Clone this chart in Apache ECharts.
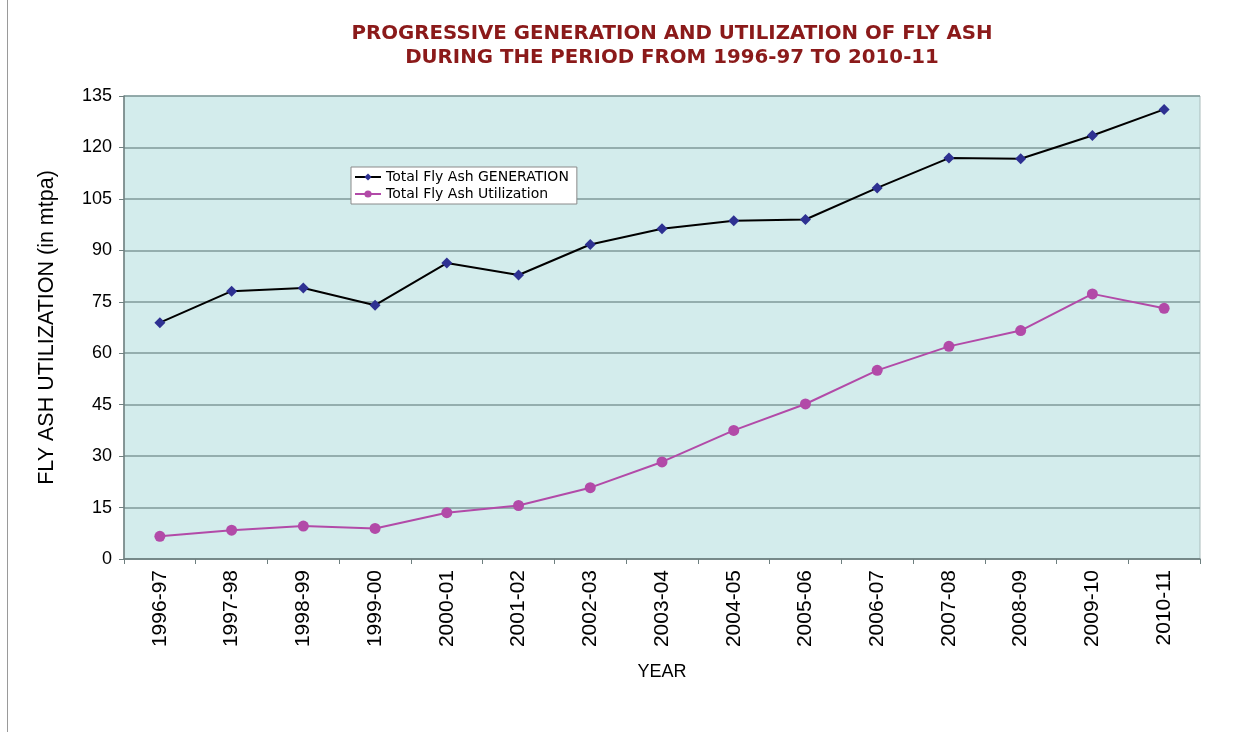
<!DOCTYPE html>
<html>
<head>
<meta charset="utf-8">
<script src="https://cdn.jsdelivr.net/npm/echarts@6/dist/echarts.min.js"></script>
<style>
  html, body { margin: 0; padding: 0; background: #fff; }
  #chart { width: 1238px; height: 732px; }
</style>
</head>
<body>
<div id="chart"></div>
<script>
const years = ['1996-97', '1997-98', '1998-99', '1999-00', '2000-01', '2001-02', '2002-03', '2003-04',
  '2004-05', '2005-06', '2006-07', '2007-08', '2008-09', '2009-10', '2010-11']
const generation = [68.9, 78.1, 79.0, 74.0, 86.3, 82.8, 91.7, 96.3, 98.6, 99.0, 108.2, 116.9, 116.7, 123.5, 131.1]
const utilization = [6.6, 8.4, 9.6, 8.9, 13.5, 15.6, 20.8, 28.3, 37.5, 45.2, 55.0, 62.0, 66.6, 77.3, 73.1]

const chart = echarts.init(document.getElementById('chart'))

chart.setOption({
  backgroundColor: '#fff',
  animation: false,
  title: {
    text: 'PROGRESSIVE GENERATION AND UTILIZATION OF FLY ASH\nDURING THE PERIOD FROM 1996-97 TO 2010-11',
    left: 667,
    textAlign: 'center',
    top: 17,
    textStyle: { color: '#8b1a1a', fontFamily: 'DejaVu Sans', fontWeight: 'bold', fontSize: 19.8, lineHeight: 24 }
  },
  graphic: [
    { type: 'line', shape: { x1: 7.5, y1: 0, x2: 7.5, y2: 732 }, style: { stroke: '#9a9a9a', lineWidth: 1 } }
  ],
  legend: {
    orient: 'vertical',
    left: 351,
    top: 167,
    padding: [3, 8, 3, 3],
    itemGap: 3,
    itemWidth: 26,
    itemHeight: 9,
    backgroundColor: '#fff',
    borderColor: '#8a8a8a',
    borderWidth: 1,
    borderRadius: 0,
    textStyle: { fontFamily: 'DejaVu Sans', fontSize: 14, color: '#000' }
  },
  grid: {
    left: 124, right: 38, top: 96, bottom: 173,
    show: true,
    backgroundColor: '#d3ecec',
    borderColor: '#a9bcbc',
    borderWidth: 1
  },
  xAxis: {
    type: 'category',
    data: years,
    boundaryGap: true,
    name: 'YEAR',
    nameLocation: 'middle',
    nameGap: 104,
    nameTextStyle: { fontFamily: 'Liberation Sans', fontSize: 18, color: '#000' },
    axisLine: { lineStyle: { color: '#6e7f7f', width: 1.5 } },
    axisTick: { show: true, alignWithLabel: false, length: 5, lineStyle: { color: '#6e7f7f' } },
    axisLabel: { rotate: 90, margin: 11, fontFamily: 'Liberation Sans', fontSize: 21, color: '#000' },
    splitLine: { show: false }
  },
  yAxis: {
    type: 'value',
    min: 0,
    max: 135,
    interval: 15,
    name: 'FLY ASH UTILIZATION (in mtpa)',
    nameLocation: 'middle',
    nameGap: 66,
    nameTextStyle: { fontFamily: 'Liberation Sans', fontSize: 21.5, color: '#000' },
    axisLine: { show: true, lineStyle: { color: '#6e7f7f', width: 1.5 } },
    axisTick: { show: true, length: 5, lineStyle: { color: '#6e7f7f' } },
    axisLabel: { margin: 12, fontFamily: 'Liberation Sans', fontSize: 18, color: '#000' },
    splitLine: { lineStyle: { color: '#7f9a9a', width: 1.5 } }
  },
  series: [
    {
      name: 'Total Fly Ash GENERATION',
      type: 'line',
      data: generation,
      symbol: 'diamond',
      symbolSize: 11,
      lineStyle: { color: '#000', width: 2 },
      itemStyle: { color: '#2e3192' }
    },
    {
      name: 'Total Fly Ash Utilization',
      type: 'line',
      data: utilization,
      symbol: 'circle',
      symbolSize: 11,
      lineStyle: { color: '#b24aa8', width: 2 },
      itemStyle: { color: '#b24aa8' }
    }
  ]
})
</script>
</body>
</html>
